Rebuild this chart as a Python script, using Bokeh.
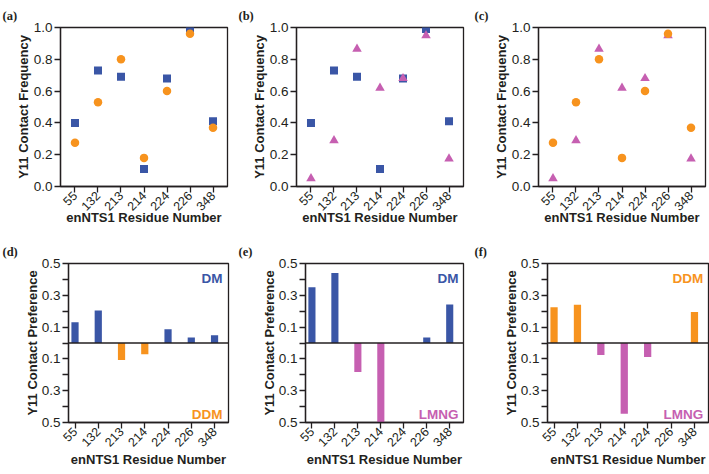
from bokeh.plotting import figure
from bokeh.models import (Range1d, FixedTicker, Span, Label, NumeralTickFormatter,
                          CustomJSTickFormatter, ColumnDataSource)
from bokeh.layouts import column, row
from bokeh.embed import file_html
from bokeh.resources import INLINE
import math

# ---------------- data ----------------
residues = ["55", "132", "213", "214", "224", "226", "348"]

freq_dm = [0.40, 0.73, 0.69, 0.11, 0.68, 0.99, 0.41]
freq_ddm = [0.275, 0.53, 0.80, 0.18, 0.60, 0.96, 0.37]
freq_lmng = [0.05, 0.29, 0.865, 0.62, 0.68, 0.95, 0.175]

pref_dm_ddm = [0.13, 0.205, -0.107, -0.07, 0.087, 0.034, 0.048]
pref_dm_lmng = [0.351, 0.441, -0.183, -0.51, 0.0, 0.034, 0.242]
pref_ddm_lmng = [0.225, 0.24, -0.076, -0.445, -0.088, 0.0, 0.195]

freq_ticks = [0.0, 0.2, 0.4, 0.6, 0.8, 1.0]
pref_ticks = [-0.5, -0.3, -0.1, 0.1, 0.3, 0.5]
pref_minor = [-0.4, -0.2, 0.0, 0.2, 0.4]

BLUE = "#3a56a6"
ORANGE = "#f7931e"
MAGENTA = "#c65fb1"
INK = "#231f20"
FONT = "Liberation Sans"

xpos = list(range(len(residues)))


def base_fig(w, h, left, right, top, bottom, xr, yr, label, xlab_standoff):
    p = figure(width=w, height=h, output_backend="svg", toolbar_location=None,
               x_range=xr, y_range=yr, min_border_left=left, min_border_right=right,
               min_border_top=top, min_border_bottom=bottom)
    p.grid.visible = False
    p.outline_line_color = INK
    p.outline_line_width = 1.3
    p.outline_line_alpha = 1
    p.background_fill_color = "white"
    p.border_fill_color = "white"
    for ax in (p.xaxis[0], p.yaxis[0]):
        ax.axis_line_color = INK
        ax.axis_line_width = 1.3
        ax.major_tick_line_color = INK
        ax.major_tick_line_width = 1.3
        ax.major_tick_in = 0
        ax.major_tick_out = 6
        ax.minor_tick_line_color = None
        ax.major_label_text_font = FONT
        ax.major_label_text_font_size = "13.5px"
        ax.major_label_text_color = INK
        ax.axis_label_text_font = FONT
        ax.axis_label_text_font_style = "bold"
        ax.axis_label_text_font_size = "13px"
        ax.axis_label_text_color = INK
    p.xaxis.ticker = FixedTicker(ticks=xpos)
    p.xaxis.major_label_overrides = {i: r for i, r in enumerate(residues)}
    p.xaxis.major_label_orientation = math.pi / 4
    p.xaxis.major_label_text_font_size = "12.5px"
    p.xaxis.major_label_standoff = 1
    p.xaxis.axis_label = "enNTS1 Residue Number"
    p.xaxis.axis_label_standoff = xlab_standoff
    p.title.text = label
    p.title.text_font = "Liberation Serif"
    p.title.text_font_style = "bold"
    p.title.text_font_size = "12.5px"
    p.title.text_color = INK
    p.title.align = "left"
    p.title.offset = -(left - 2)
    p.title.standoff = 10
    return p


def freq_fig(w, left, right, label, series):
    p = base_fig(w, 237, left, right, 27, 51, Range1d(-0.63, 6.63), Range1d(0, 1), label, -8)
    p.yaxis.ticker = FixedTicker(ticks=freq_ticks)
    p.yaxis.formatter = NumeralTickFormatter(format="0.0")
    p.yaxis.major_label_standoff = 2
    p.yaxis.axis_label = "Y11 Contact Frequency"
    p.yaxis.axis_label_standoff = 0
    for kind, vals in series:
        if kind == "DM":
            p.scatter(xpos, vals, marker="square", size=8, fill_color=BLUE, line_color=None)
        elif kind == "DDM":
            p.scatter(xpos, vals, marker="circle", size=8.5, fill_color=ORANGE, line_color=None)
        else:
            p.scatter(xpos, vals, marker="triangle", size=9.5, fill_color=MAGENTA, line_color=None)
    return p


def pref_fig(w, left, right, label, vals, pos_name, pos_col, neg_name, neg_col, lab_x):
    p = base_fig(w, 237, left, right, 25, 52, Range1d(-0.28, 6.6), Range1d(-0.5, 0.5), label, -2)
    p.yaxis.ticker = FixedTicker(ticks=pref_ticks, minor_ticks=pref_minor)
    p.yaxis.formatter = CustomJSTickFormatter(code="return Math.abs(tick).toFixed(1);")
    p.yaxis.minor_tick_line_color = INK
    p.yaxis.minor_tick_line_width = 1.3
    p.yaxis.minor_tick_in = 0
    p.yaxis.minor_tick_out = 6
    p.yaxis.major_label_standoff = 2
    p.yaxis.axis_label = "Y11 Contact Preference"
    p.yaxis.axis_label_standoff = -1
    colors = [pos_col if v >= 0 else neg_col for v in vals]
    src = ColumnDataSource(dict(x=xpos, top=vals, color=colors))
    p.vbar(x="x", top="top", bottom=0, width=0.31, fill_color="color", line_color=None, source=src)
    p.add_layout(Span(location=0, dimension="width", line_color=INK, line_width=1.3))
    p.add_layout(Label(x=lab_x, y=0.455, text=pos_name, text_align="right", text_baseline="top",
                       text_font=FONT, text_font_style="bold", text_font_size="13.5px",
                       text_color=pos_col))
    p.add_layout(Label(x=lab_x, y=-0.452, text=neg_name, text_align="right",
                       text_baseline="alphabetic",
                       text_font=FONT, text_font_style="bold", text_font_size="13.5px",
                       text_color=neg_col))
    return p


pa = freq_fig(236, 60, 9, "(a)", [("DM", freq_dm), ("DDM", freq_ddm)])
pb = freq_fig(236, 60, 9, "(b)", [("DM", freq_dm), ("LMNG", freq_lmng)])
pc = freq_fig(237, 66, 4, "(c)", [("LMNG", freq_lmng), ("DDM", freq_ddm)])

pd = pref_fig(236, 68, 8, "(d)", pref_dm_ddm, "DM", BLUE, "DDM", ORANGE, 6.34)
pe = pref_fig(236, 69, 9, "(e)", pref_dm_lmng, "DM", BLUE, "LMNG", MAGENTA, 6.38)
pf = pref_fig(237, 75, 1, "(f)", pref_ddm_lmng, "DDM", ORANGE, "LMNG", MAGENTA, 6.38)

layout = column(row(pa, pb, pc, spacing=0), row(pd, pe, pf, spacing=0), spacing=0)

open("out.html", "w").write(file_html(layout, INLINE))
